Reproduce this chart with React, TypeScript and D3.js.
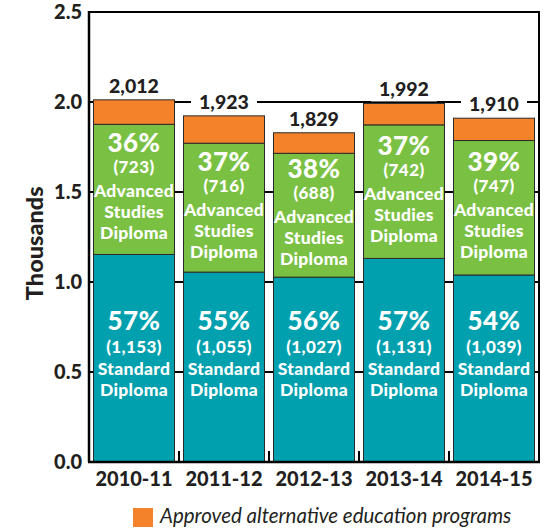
import React from "react";
import * as d3 from "d3";

const years = ["2010-11", "2011-12", "2012-13", "2013-14", "2014-15"];
const totals = [2012, 1923, 1829, 1992, 1910];
const standard = [1153, 1055, 1027, 1131, 1039];
const advanced = [723, 716, 688, 742, 747];
const standardPct = ["57%", "55%", "56%", "57%", "54%"];
const advancedPct = ["36%", "37%", "38%", "37%", "39%"];
const yTicks = [0, 0.5, 1.0, 1.5, 2.0, 2.5];
const legendLabel = "Approved alternative education programs";

const W = 550;
const H = 529;
const FONT = "Lato, 'Open Sans', sans-serif";
const TEAL = "#00A0AE";
const GREEN = "#7AC143";
const ORANGE = "#F4822A";
const DARK = "#231F20";

export default function App() {
  const x = d3.scaleBand<string>().domain(years).range([89, 539]).paddingInner(0.1).paddingOuter(0.05);
  const y = d3.scaleLinear().domain([0, 2.5]).range([462, 12]);
  const fmt = d3.format(",");
  const bw = x.bandwidth();

  return (
    <svg width={W} height={H} style={{ position: "absolute", left: 0, top: 0, background: "#fff" }}>
      {/* gridlines */}
      {yTicks.map((t) => (
        <line key={"g" + t} x1={89} x2={539} y1={y(t)} y2={y(t)} stroke="#000" strokeWidth={1.8} />
      ))}
      {/* frame */}
      <line x1={89} x2={89} y1={y(2.5) - 1} y2={y(0)} stroke="#000" strokeWidth={2.5} />
      <line x1={539} x2={539} y1={y(2.5) - 1} y2={y(0)} stroke="#000" strokeWidth={2} />
      {/* bottom ticks between bars */}
      {years.slice(0, -1).map((yr) => {
        const xx = (x(yr) as number) + bw + (x.step() - bw) / 2;
        return <line key={"bt" + yr} x1={xx} x2={xx} y1={y(0)} y2={y(0) - 11} stroke="#000" strokeWidth={2} />;
      })}
      {/* y tick labels */}
      {yTicks.map((t) => (
        <text key={"yl" + t} x={82} y={y(t)} dy="0.36em" textAnchor="end" fontFamily={FONT} fontWeight={900} fontSize={20} fill={DARK}>
          {t.toFixed(1)}
        </text>
      ))}
      <text transform={`translate(35,${y(1.215)}) rotate(-90)`} textAnchor="middle" dy="0.36em" fontFamily={FONT} fontWeight={900} fontSize={23.5} fill={DARK}>
        Thousands
      </text>
      {years.map((yr, i) => {
        const x0 = x(yr) as number;
        const cx = x0 + bw / 2;
        const s = standard[i] / 1000;
        const a = advanced[i] / 1000;
        const tot = totals[i] / 1000;
        const advMid = y(s + a / 2);
        const stdMid = y(0.58);
        const labelBase = y(tot) - 7;
        const labelText = fmt(totals[i]);
        return (
          <g key={yr}>
            <rect x={x0} width={bw} y={y(s)} height={y(0) - y(s)} fill={TEAL} stroke="#2a2a2a" strokeWidth={1} />
            <rect x={x0} width={bw} y={y(s + a)} height={y(s) - y(s + a)} fill={GREEN} stroke="#2a2a2a" strokeWidth={1} />
            <rect x={x0} width={bw} y={y(tot)} height={y(s + a) - y(tot)} fill={ORANGE} stroke="#2a2a2a" strokeWidth={1} />
            {/* total label */}
            <rect x={cx - 33} y={labelBase - 17} width={66} height={22} fill="#fff" />
            <text x={cx} y={labelBase} textAnchor="middle" fontFamily={FONT} fontWeight={900} fontSize={19.5} fill={DARK}>
              {labelText}
            </text>
            {/* advanced label */}
            <g fontFamily={FONT} fontWeight={900} fill="#fff" textAnchor="middle">
              <text x={cx} y={advMid - 37} fontSize={26} letterSpacing={0.5}>{advancedPct[i]}</text>
              <text x={cx} y={advMid - 16} fontSize={17} letterSpacing={0.4}>({fmt(advanced[i])})</text>
              <text x={cx} y={advMid + 8} fontSize={17.5} letterSpacing={0.3}>Advanced</text>
              <text x={cx} y={advMid + 29} fontSize={17.5} letterSpacing={0.3}>Studies</text>
              <text x={cx} y={advMid + 50} fontSize={17.5} letterSpacing={0.3}>Diploma</text>
            </g>
            {/* standard label */}
            <g fontFamily={FONT} fontWeight={900} fill="#fff" textAnchor="middle">
              <text x={cx} y={stdMid - 28} fontSize={26} letterSpacing={0.5}>{standardPct[i]}</text>
              <text x={cx} y={stdMid - 5} fontSize={17} letterSpacing={0.4}>({fmt(standard[i])})</text>
              <text x={cx} y={stdMid + 17} fontSize={17.5} letterSpacing={0.3}>Standard</text>
              <text x={cx} y={stdMid + 38} fontSize={17.5} letterSpacing={0.3}>Diploma</text>
            </g>
            {/* x label */}
            <text x={cx} y={y(0) + 17} dy="0.36em" textAnchor="middle" fontFamily={FONT} fontWeight={900} fontSize={20} fill={DARK}>
              {yr}
            </text>
          </g>
        );
      })}
      <line x1={88} x2={540} y1={y(0)} y2={y(0)} stroke="#000" strokeWidth={2.5} />
      {/* legend */}
      <rect x={133} y={508} width={20} height={19} fill={ORANGE} />
      <text x={160} y={523} fontFamily={FONT} fontStyle="italic" fontSize={20.5} fill={DARK}>
        {legendLabel}
      </text>
    </svg>
  );
}
